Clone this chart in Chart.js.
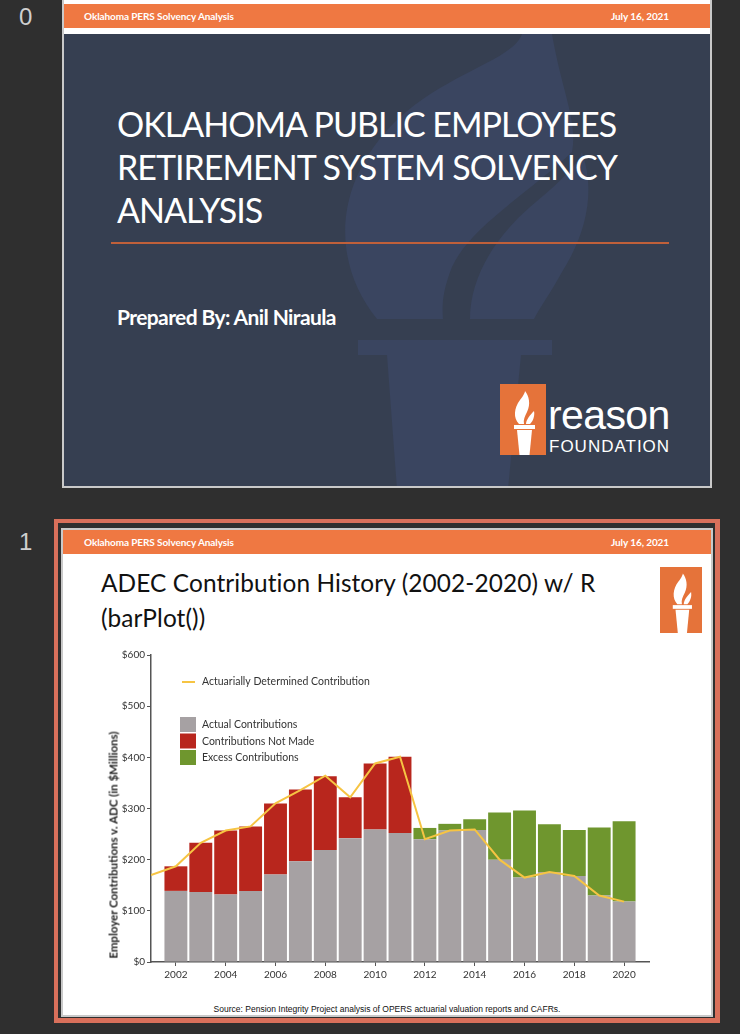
<!DOCTYPE html>
<html>
<head>
<meta charset="utf-8">
<script src="https://cdn.jsdelivr.net/npm/chart.js@4.4.1/dist/chart.umd.min.js"></script>
<style>
  html, body { margin: 0; padding: 0; }
  body { width: 740px; height: 1034px; background: #2f2f2f; position: relative; overflow: hidden; font-family: Lato, sans-serif; }
  .abs { position: absolute; }
  .num { color: #cfcfcf; font-family: "Liberation Sans", sans-serif; font-size: 24px; }
  .hdr { background: #ef7842; color: #fff; font-size: 10px; font-weight: bold; letter-spacing: -0.1px; }
  .hdr span { position: absolute; top: 6px; }
</style>
</head>
<body>

<div class="abs num" style="left:19px;top:3px;">0</div>
<div class="abs num" style="left:19px;top:528px;">1</div>

<!-- slide 0 -->
<div class="abs" style="left:62px;top:-2px;width:646px;height:486px;border:2px solid #c9c9c9;background:#fff;overflow:hidden;">
  <div class="abs hdr" style="left:0;top:4px;width:646px;height:24px;">
    <span style="left:20px;">Oklahoma PERS Solvency Analysis</span>
    <span style="left:547px;">July 16, 2021</span>
  </div>
  <div class="abs" style="left:0;top:34px;width:646px;height:454px;background:#363f51;"></div>
  <svg class="abs" style="left:-64px;top:0;" width="740" height="490" viewBox="0 -2 740 490">
    <g fill="#3a4560">
      <path d="M377 317 C335 265 330 190 390 125 C440 72 512 60 522 32 L552 32 C562 90 578 120 572 150 C530 190 470 225 452 265 C442 290 442 305 443 317 Z"/>
      <path d="M470 317 C470 280 490 240 530 205 C560 180 576 165 582 150 C596 190 586 232 562 270 C550 292 540 305 534 317 Z"/>
      <rect x="358" y="338" width="194" height="15"/>
      <path d="M387 353 L521 353 L508 487 L397 487 Z"/>
    </g>
  </svg>
  <div class="abs" style="left:53px;top:102px;color:#fff;font-size:34px;line-height:43px;letter-spacing:-1px;white-space:nowrap;">OKLAHOMA PUBLIC EMPLOYEES<br>RETIREMENT SYSTEM SOLVENCY<br>ANALYSIS</div>
  <div class="abs" style="left:47px;top:242px;width:558px;height:1.5px;background:#c0603a;"></div>
  <div class="abs" style="left:53px;top:305px;color:#fff;font-size:21px;line-height:24px;font-weight:bold;letter-spacing:-0.6px;white-space:nowrap;">Prepared By: Anil Niraula</div>
  <svg class="abs" style="left:436px;top:384px;" width="46" height="71" viewBox="0 0 46 71">
    <rect width="46" height="71" fill="#e5733a"/>
    <g fill="#fff">
      <path d="M19 40 C13 34 14 24 20 16 C24 11 25 8 25 7 C29 12 31 20 27 28 C25 32 23 36 24 40 Z"/>
      <path d="M26 40 C26 36 30 31 34 27 C35 32 33 37 30 40 Z"/>
      <rect x="14" y="41" width="21" height="4"/>
      <path d="M17 46 L32 46 L29.5 71 L19.5 71 Z"/>
    </g>
  </svg>
  <div class="abs" style="left:484px;top:391px;color:#fff;font-family:'Liberation Sans',sans-serif;font-size:41px;line-height:48px;letter-spacing:-0.6px;">reason</div>
  <div class="abs" style="left:485px;top:437px;color:#fff;font-family:'Liberation Sans',sans-serif;font-size:17px;line-height:20px;letter-spacing:1px;">FOUNDATION</div>
</div>

<!-- slide 1 frame -->
<div class="abs" style="left:54px;top:519px;width:666px;height:504px;background:#d9705b;"></div>
<div class="abs" style="left:58px;top:523px;width:657px;height:495px;background:#2f2f2f;"></div>
<div class="abs" style="left:61px;top:528px;width:648px;height:485px;border:2px solid #c9c9c9;background:#fff;overflow:hidden;">
  <div class="abs hdr" style="left:0;top:0;width:648px;height:24px;">
    <span style="left:21px;">Oklahoma PERS Solvency Analysis</span>
    <span style="left:548px;">July 16, 2021</span>
  </div>
  <div class="abs" style="left:38px;top:35px;color:#111;font-size:24.4px;line-height:35px;letter-spacing:0.1px;white-space:nowrap;">ADEC Contribution History (2002-2020) w/ R<br>(barPlot())</div>
  <svg class="abs" style="left:597px;top:37px;" width="42" height="66" viewBox="0 0 46 71" preserveAspectRatio="none">
    <rect width="46" height="71" fill="#e5733a"/>
    <g fill="#fff">
      <path d="M19 40 C13 34 14 24 20 16 C24 11 25 8 25 7 C29 12 31 20 27 28 C25 32 23 36 24 40 Z"/>
      <path d="M26 40 C26 36 30 31 34 27 C35 32 33 37 30 40 Z"/>
      <rect x="14" y="41" width="21" height="4"/>
      <path d="M17 46 L32 46 L29.5 71 L19.5 71 Z"/>
    </g>
  </svg>
  <div class="abs" style="left:0;top:474px;width:648px;text-align:center;font-family:'Liberation Sans',sans-serif;font-size:8.5px;color:#111;">Source: Pension Integrity Project analysis of OPERS actuarial valuation reports and CAFRs.</div>
</div>

<div class="abs" style="left:78px;top:645px;width:590px;height:350px;">
  <canvas id="chart_Adec" width="590" height="350" style="width:590px;height:350px;"></canvas>
</div>
<div class="abs" style="left:113px;top:845px;width:0;height:0;">
  <div style="position:absolute;left:0;top:0;transform:translate(-50%,-50%) rotate(-90deg);white-space:nowrap;font-size:11.5px;font-weight:bold;color:#222;">Employer Contributions v. ADC (in $Millions)</div>
</div>

<script>
var years = [2002, 2003, 2004, 2005, 2006, 2007, 2008, 2009, 2010, 2011,
             2012, 2013, 2014, 2015, 2016, 2017, 2018, 2019, 2020];
var actualContrib = [139, 137, 132, 139, 171, 197, 219, 242, 259, 252,
                     240, 257, 258, 200, 165, 176, 168, 130, 118];
var notMade = [48, 96, 125, 126, 139, 140, 144, 80, 129, 149,
               null, null, null, null, null, null, null, null, null];
var excess = [null, null, null, null, null, null, null, null, null, null,
              22, 13, 21, 92, 131, 93, 90, 133, 157];
var adcYears = [2001, 2002, 2003, 2004, 2005, 2006, 2007, 2008, 2009, 2010, 2011,
                2012, 2013, 2014, 2015, 2016, 2017, 2018, 2019, 2020];
var adcValues = [170, 187, 233, 257, 265, 310, 336, 364, 322, 388, 401,
                 240, 257, 259, 200, 165, 176, 168, 130, 118];
var xTicks = [2002, 2004, 2006, 2008, 2010, 2012, 2014, 2016, 2018, 2020];
var yTicks = [0, 100, 200, 300, 400, 500, 600];

function pairs(xs, ys) {
  var out = [];
  for (var i = 0; i < xs.length; i++) {
    out.push({ x: xs[i], y: ys[i] });
  }
  return out;
}

// legend drawn inside the plot, top left
var insideLegend = {
  id: 'insideLegend',
  afterDraw: function (chart) {
    var ctx = chart.ctx;
    var a = chart.chartArea;
    var ds = chart.data.datasets;
    ctx.save();
    ctx.font = '10.5px Lato';
    ctx.fillStyle = '#333';
    ctx.textBaseline = 'middle';
    // line entry
    ctx.strokeStyle = ds[0].borderColor;
    ctx.lineWidth = 2;
    ctx.beginPath();
    ctx.moveTo(a.left + 31, a.top + 27);
    ctx.lineTo(a.left + 44, a.top + 27);
    ctx.stroke();
    ctx.fillText(ds[0].label, a.left + 51, a.top + 27);
    // box entries
    for (var i = 1; i < ds.length; i++) {
      var y = a.top + 62 + (i - 1) * 16.5;
      ctx.fillStyle = ds[i].backgroundColor;
      ctx.fillRect(a.left + 29, y, 16, 15);
      ctx.fillStyle = '#333';
      ctx.fillText(ds[i].label, a.left + 51, y + 8);
    }
    ctx.restore();
  }
};

new Chart(document.getElementById("chart_Adec"), {
  type: 'bar',
  data: {
    datasets: [{
      type: 'line',
      label: "Actuarially Determined Contribution",
      data: pairs(adcYears, adcValues),
      borderColor: "#f6c443",
      borderWidth: 2,
      pointRadius: 0,
      tension: 0,
      stack: 'adc',
      order: 0
    }, {
      label: "Actual Contributions",
      data: pairs(years, actualContrib),
      backgroundColor: "#a6a1a3",
      stack: 'c',
      order: 1
    }, {
      label: "Contributions Not Made",
      data: pairs(years, notMade),
      backgroundColor: "#b8261d",
      stack: 'c',
      order: 1
    }, {
      label: "Excess Contributions",
      data: pairs(years, excess),
      backgroundColor: "#6f962e",
      stack: 'c',
      order: 1
    }]
  },
  options: {
    responsive: false,
    animation: false,
    layout: { padding: { top: 10, right: 19, left: 0, bottom: 0 } },
    datasets: {
      bar: { barPercentage: 0.92, categoryPercentage: 1.0, borderWidth: 0 }
    },
    scales: {
      x: {
        type: 'linear',
        offset: false,
        min: 2001,
        max: 2021,
        stacked: true,
        afterBuildTicks: function (scale) {
          scale.ticks = xTicks.map(function (v) { return { value: v }; });
        },
        afterFit: function (scale) { scale.height = 33; },
        grid: { drawOnChartArea: false, offset: false, tickLength: 4, color: '#555', tickWidth: 1 },
        border: { color: '#555', width: 1.5 },
        ticks: {
          color: '#333',
          font: { family: 'Lato', size: 10 },
          padding: 3,
          maxRotation: 0,
          callback: function (v) { return String(v); }
        }
      },
      y: {
        min: 0,
        max: 600,
        stacked: true,
        afterBuildTicks: function (scale) {
          scale.ticks = yTicks.map(function (v) { return { value: v }; });
        },
        afterFit: function (scale) { scale.width = 73; },
        grid: { drawOnChartArea: false, tickLength: 4, color: '#555', tickWidth: 1 },
        border: { color: '#555', width: 1.5 },
        ticks: {
          color: '#333',
          font: { family: 'Lato', size: 10 },
          padding: 2,
          callback: function (v) { return '$' + v; }
        }
      }
    },
    plugins: {
      legend: { display: false },
      tooltip: { enabled: false }
    }
  },
  plugins: [insideLegend]
});
</script>
</body>
</html>
